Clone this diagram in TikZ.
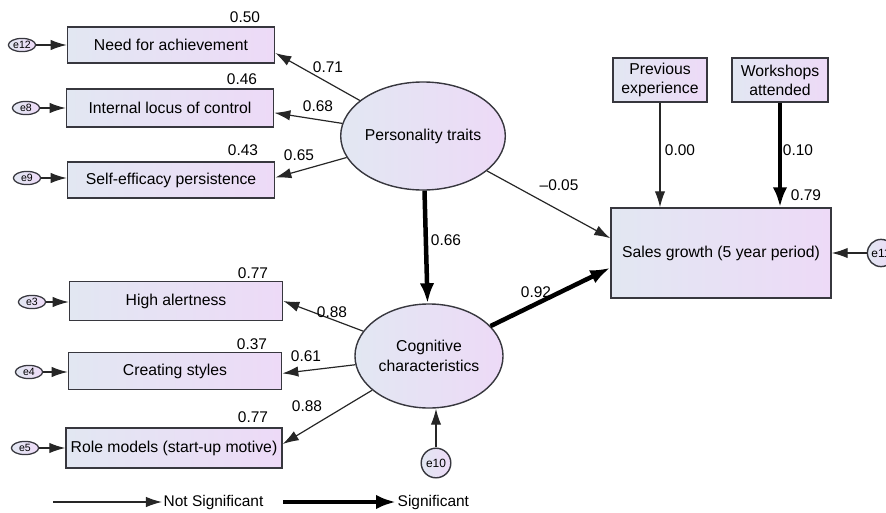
\documentclass[tikz,border=0pt]{standalone}
\usepackage{fontspec}
\setmainfont{Liberation Sans}
\usetikzlibrary{shapes.geometric,arrows.meta}
\definecolor{boxleft}{RGB}{226,231,242}
\definecolor{boxright}{RGB}{237,218,247}
\definecolor{edgegrey}{RGB}{55,55,62}
\tikzset{
    observed/.style={
        draw=edgegrey,
        line width=1pt,
        left color=boxleft,
        right color=boxright,
        align=center,
        font=\fontsize{11.2}{13.6}\selectfont,
        inner sep=2pt,
        minimum width=5.18cm,
        minimum height=0.9cm
    },
    latent/.style={
        ellipse,
        draw=edgegrey,
        line width=1pt,
        left color=boxleft,
        right color=boxright,
        align=center,
        font=\fontsize{11.2}{14}\selectfont,
        inner sep=0pt
    },
    errterm/.style={
        ellipse,
        draw=edgegrey,
        line width=0.9pt,
        left color=boxleft,
        right color=boxright,
        font=\fontsize{7.5}{8}\selectfont,
        inner sep=0pt,
        minimum width=0.68cm,
        minimum height=0.33cm
    },
    errcircle/.style={
        circle,
        draw=edgegrey,
        line width=1pt,
        left color=boxleft,
        right color=boxright,
        font=\fontsize{8.5}{9}\selectfont,
        inner sep=0pt,
        minimum size=0.74cm
    },
    coef/.style={font=\fontsize{11}{13}\selectfont, inner sep=1pt},
    weakpath/.style={-{Latex[length=4mm,width=2.6mm]}, line width=0.85pt, draw=black!85},
    strongpath/.style={-{Latex[length=5mm,width=3.6mm]}, line width=3.2pt}
}

\begin{document}
\begin{tikzpicture}[x=0.025cm, y=-0.025cm]

\useasboundingbox (0,0) rectangle (886,512);

% ------------------------------------------------------------
% Personality traits
% ------------------------------------------------------------

\node[latent, minimum width=3.58cm, minimum height=2.7cm] (pt) at (423,136)
{Personality traits};

\node[observed] (need) at (171,45) {Need for achievement};
\node[observed, minimum height=0.95cm] (locus) at (170,108) {Internal locus of control};
\node[observed] (selfeff) at (171,180) {Self-efficacy persistence};

\node[errterm] (e12) at (22,45) {e12};
\node[errterm] (e8) at (26,108) {e8};
\node[errterm] (e9) at (27,178) {e9};

\draw[weakpath] (e12) -- (need);
\draw[weakpath] (e8) -- (locus);
\draw[weakpath] (e9) -- (e9 -| selfeff.west);

\draw[weakpath] (pt) -- ([yshift=-2mm]need.east);
\draw[weakpath] (pt) -- ([yshift=-1.2mm]locus.east);
\draw[weakpath] (pt) -- ([yshift=0.6mm]selfeff.east);

\node[coef] (r50) at (245,17) {0.50};
\node[coef] (r46) at (242,79) {0.46};
\node[coef] (r43) at (243,150) {0.43};
\node[coef] (l71) at (328,67) {0.71};
\node[coef] (l68) at (318,106) {0.68};
\node[coef] (l65) at (299,155) {0.65};


% ------------------------------------------------------------
% Cognitive characteristics
% ------------------------------------------------------------

\node[latent, minimum width=3.7cm, minimum height=2.6cm] (cc) at (429,356)
{Cognitive\\characteristics};

\node[observed, minimum width=5.33cm, minimum height=0.97cm] (alert) at (176,301) {High alertness};
\node[observed, minimum width=5.33cm, minimum height=0.92cm] (styles) at (175,371) {Creating styles};
\node[observed, minimum width=5.4cm, minimum height=1cm] (models) at (174,448) {Role models (start-up motive)};

\node[errterm] (e3) at (32,302) {e3};
\node[errterm] (e4) at (29,372) {e4};
\node[errterm] (e5) at (25,448) {e5};

\draw[weakpath] (e3) -- (e3 -| alert.west);
\draw[weakpath] (e4) -- (e4 -| styles.west);
\draw[weakpath] (e5) -- (models);

\draw[weakpath] (cc) -- (alert.east);
\draw[weakpath] (cc) -- ([yshift=-0.6mm]styles.east);
\draw[weakpath] (cc) -- ([yshift=1mm]models.east);

\node[errcircle] (e10) at (436,463) {e10};
\draw[weakpath] (e10) -- (e10 |- cc.south);

\node[coef] (r77a) at (253,273) {0.77};
\node[coef] (r37) at (252,344) {0.37};
\node[coef] (r77b) at (253,417) {0.77};
\node[coef] (l88a) at (332,312) {0.88};
\node[coef] (l61) at (306,356) {0.61};
\node[coef] (l88b) at (307,406) {0.88};


% ------------------------------------------------------------
% Sales growth
% ------------------------------------------------------------

\node[observed, minimum width=5.5cm, minimum height=2.25cm] (sales) at (721,253)
{Sales growth (5 year period)};

\node[observed, minimum width=2.35cm, minimum height=1.1cm] (prev) at (660,80)
{Previous\\experience};

\node[observed, minimum width=2.4cm, minimum height=1.1cm] (workshops) at (780,80)
{Workshops\\attended};

\node[errcircle, minimum size=0.68cm] (e11) at (881,253) {e11};

\draw[weakpath] (prev) -- (prev |- sales.north);
\draw[strongpath] (workshops) -- (workshops |- sales.north);
\draw[weakpath] (e11) -- (sales);

\draw[weakpath] (pt) -- ([yshift=3.7mm]sales.west);
\draw[strongpath] (pt) -- (cc);
\draw[strongpath] (cc) -- ([yshift=-3.7mm]sales.west);

\node[coef] (l00) at (680,150) {0.00};
\node[coef] (l10) at (798,150) {0.10};
\node[coef] (r79) at (806,195) {0.79};
\node[coef] (l05) at (559,185) {\textendash0.05};
\node[coef] (l66) at (446,240) {0.66};
\node[coef] (l92) at (536,292) {0.92};


% ------------------------------------------------------------
% Legend
% ------------------------------------------------------------

\coordinate (nsstart) at (53,502);
\node[coef, anchor=west] (nslabel) at (162,502) {Not Significant};
\draw[weakpath] (nsstart) -- (nslabel.west);

\coordinate (sgstart) at (283,502);
\node[coef, anchor=west] (sglabel) at (396,502) {Significant};
\draw[strongpath] (sgstart) -- (sglabel.west);

\end{tikzpicture}
\end{document}
